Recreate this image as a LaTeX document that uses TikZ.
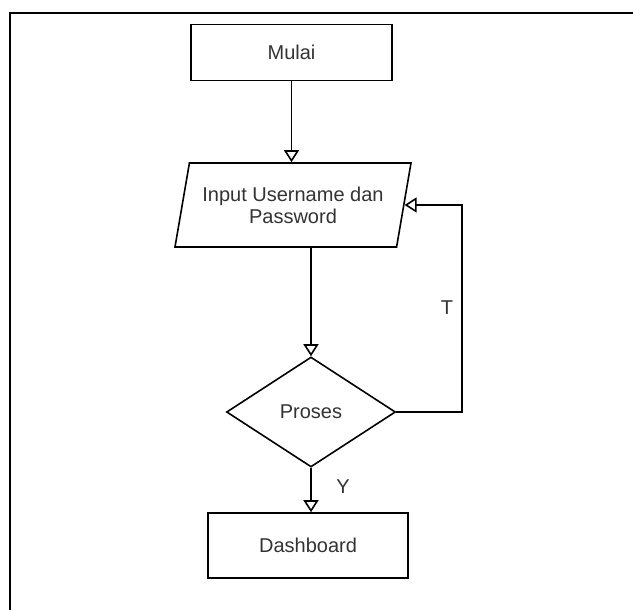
\documentclass[tikz,border=0pt]{standalone}
\usepackage{fontspec}
\setmainfont{Liberation Sans}
\usetikzlibrary{shapes.geometric,arrows.meta,calc}
\begin{document}
\begin{tikzpicture}[x=1pt,y=-1pt,
  base/.style={draw=black, line width=1.6pt, text=black!80, font=\fontsize{20}{22}\selectfont, inner sep=0pt},
  procbox/.style={base, rectangle, minimum width=201pt, minimum height=56pt},
  iobox/.style={base, trapezium, trapezium left angle=68.55, trapezium right angle=111.45, trapezium stretches body, minimum width=236pt, minimum height=84pt, align=center},
  decbox/.style={base, diamond, aspect=1.54, minimum width=169pt, minimum height=110pt},
  flow/.style={line width=1.6pt, -{Triangle[open, length=12pt, width=15pt]}},
  lbl/.style={text=black!80, font=\fontsize{20}{22}\selectfont, inner sep=0pt}
]
\useasboundingbox (0,0) rectangle (633,610);
\fill[white] (0,0) rectangle (633,610);
\draw[line width=2.6pt] (10,620) -- (10,13) -- (640,13);

\node[procbox] (mulai) at (291.5,52.5) {Mulai};
\node[iobox] (inp) at (293,205) {Input Username dan\\Password};
\node[decbox] (dia) at (311,412) {Proses};
\node[procbox, minimum width=200pt, minimum height=65pt] (dash) at (308,545.5) {Dashboard};
\coordinate (loopx) at (462,0);

\draw[flow] (mulai.south) -- (mulai.south |- inp.north);
\draw[flow] (inp.south -| dia.north) -- (dia.north);
\draw[flow] (dia.south) -- (dia.south |- dash.north);
\draw[flow] (dia.east) -- (dia.east -| loopx) |- (inp.east);

\node[lbl] (tl) at (447,308) {T};
\node[lbl] (yl) at (343,487) {Y};
\end{tikzpicture}
\end{document}
